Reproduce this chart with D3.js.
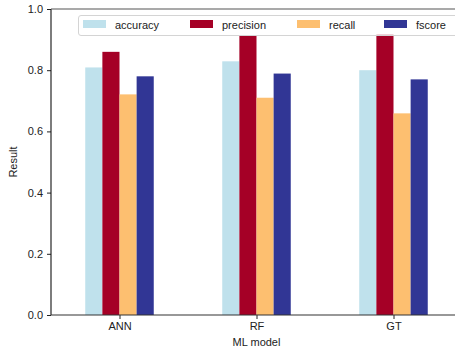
<!DOCTYPE html>
<html>
<head>
<meta charset="utf-8">
<script src="https://cdn.jsdelivr.net/npm/d3@7"></script>
<style>
  body { margin: 0; background: #fff; }
  text { font-family: "Liberation Sans", Arial, sans-serif; fill: #222; }
</style>
</head>
<body>
<div id="chart"></div>
<script>
// data
const models = ["ANN", "RF", "GT"];
const metrics = ["accuracy", "precision", "recall", "fscore"];
const accuracy = [0.809, 0.829, 0.800];
const precision = [0.860, 0.912, 0.918];
const recall = [0.721, 0.710, 0.659];
const fscore = [0.780, 0.789, 0.770];
const colors = ["#bfe1ec", "#a50026", "#fdbf70", "#313695"];
const yTicks = [0.0, 0.2, 0.4, 0.6, 0.8, 1.0];

const series = [accuracy, precision, recall, fscore];

const W = 455, H = 349;
const margin = {top: 9, right: -7, bottom: 34, left: 51};
const width = W - margin.left - margin.right,
  height = H - margin.top - margin.bottom;
const fs = "11px";

const svg = d3.select("#chart").append("svg")
  .attr("width", W)
  .attr("height", H);

const g = svg.append("g")
  .attr("transform", "translate(" + margin.left + "," + margin.top + ")");

// pandas-style positions: group centers at 0,1,2, xlim -0.5..2.5
const x = d3.scaleLinear().domain([-0.5, models.length - 0.5]).range([0, width]);
const y = d3.scaleLinear().domain([0, 1]).range([height, 0]);
const groupW = 0.5;
const barW = groupW / metrics.length;

// bars
metrics.forEach(function (m, j) {
  g.selectAll(".bar-" + m)
    .data(series[j])
    .enter()
    .append("rect")
      .attr("class", "bar-" + m)
      .attr("x", function (d, i) { return x(i - groupW / 2 + j * barW); })
      .attr("width", x(barW) - x(0))
      .attr("y", function (d) { return y(d); })
      .attr("height", function (d) { return y(0) - y(d); })
      .attr("fill", colors[j]);
});

// axes
const yAxis = g.append("g")
  .call(d3.axisLeft(y).tickValues(yTicks).tickFormat(d3.format(".1f")).tickSize(4).tickPadding(4));
const xAxis = g.append("g")
  .attr("transform", "translate(0," + height + ")")
  .call(d3.axisBottom(x).tickValues(d3.range(models.length))
    .tickFormat(function (i) { return models[i]; }).tickSize(4).tickPadding(3));

[xAxis, yAxis].forEach(function (a) {
  a.selectAll("text").style("font-size", fs).attr("fill", "#222");
  a.selectAll("line").attr("stroke", "#222");
  a.select(".domain").remove();
});

// spines
g.append("line").attr("x1", 0).attr("x2", 0).attr("y1", 0).attr("y2", height)
  .attr("stroke", "#111").attr("stroke-width", 1.1);
g.append("line").attr("x1", 0).attr("x2", width).attr("y1", height).attr("y2", height)
  .attr("stroke", "#333").attr("stroke-width", 1.1);
g.append("line").attr("x1", 0).attr("x2", width).attr("y1", 0).attr("y2", 0)
  .attr("stroke", "#555").attr("stroke-width", 1.1);
g.append("line").attr("x1", width).attr("x2", width).attr("y1", 0).attr("y2", height)
  .attr("stroke", "#333").attr("stroke-width", 1.1);

// axis labels
svg.append("text")
  .attr("x", margin.left + x(1)).attr("y", 346)
  .attr("text-anchor", "middle")
  .style("font-size", fs)
  .text("ML model");
svg.append("text")
  .attr("transform", "translate(17," + (margin.top + height / 2) + ") rotate(-90)")
  .attr("text-anchor", "middle")
  .style("font-size", fs)
  .text("Result");

// legend
const legend = svg.append("g");
legend.append("rect")
  .attr("x", 78.5).attr("y", 15.5)
  .attr("width", 392).attr("height", 20)
  .attr("rx", 2.5)
  .attr("fill", "rgba(255,255,255,0.8)")
  .attr("stroke", "#d4d4d4");
const legendX = [83, 190, 297, 384];
metrics.forEach(function (m, j) {
  legend.append("rect")
    .attr("x", legendX[j]).attr("y", 20)
    .attr("width", 23).attr("height", 8)
    .attr("fill", colors[j]);
  legend.append("text")
    .attr("x", legendX[j] + 32).attr("y", 28.5)
    .style("font-size", fs)
    .text(m);
});
</script>
</body>
</html>
